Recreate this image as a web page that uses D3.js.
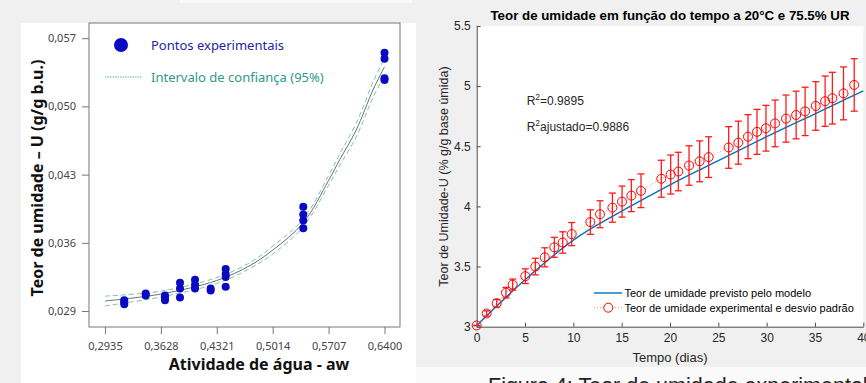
<!DOCTYPE html>
<html>
<head>
<meta charset="utf-8">
<script src="https://cdn.jsdelivr.net/npm/d3@7"></script>
<style>
  body { margin: 0; background: #f0f0f0; }
  svg { display: block; }
</style>
</head>
<body>
<svg id="chart" width="866" height="383"></svg>
<script>
// ---- left panel data (isoterma) ----
const expAw = [0.3174, 0.3174, 0.3174, 0.3440, 0.3440,
  0.3679, 0.3679, 0.3679, 0.3865, 0.3865, 0.3865,
  0.4051, 0.4051, 0.4051, 0.4245, 0.4245,
  0.4431, 0.4431, 0.4431, 0.4431,
  0.5393, 0.5393, 0.5393, 0.5393,
  0.6400, 0.6400, 0.6400, 0.6400];
const expU = [0.0297, 0.0299, 0.0301, 0.0306, 0.0308,
  0.0306, 0.0304, 0.0301, 0.0319, 0.0313, 0.0304,
  0.0322, 0.0317, 0.0313, 0.0313, 0.0311,
  0.0333, 0.0328, 0.0325, 0.0315,
  0.0397, 0.0389, 0.0383, 0.0375,
  0.0555, 0.0549, 0.0529, 0.0527];
const fitAw = [0.2935, 0.3628, 0.4321, 0.4733, 0.5014, 0.5393, 0.5707, 0.5848, 0.6047, 0.6261, 0.6400];
const fitU = [0.03003, 0.03074, 0.03213, 0.03367, 0.03525, 0.03806, 0.04240, 0.04458, 0.04754, 0.05176, 0.05406];
const fitUpper = [0.03053, 0.03104, 0.03243, 0.03397, 0.03565, 0.03846, 0.04290, 0.04518, 0.04824, 0.05256, 0.05496];
const fitLower = [0.02953, 0.03044, 0.03183, 0.03337, 0.03485, 0.03766, 0.04190, 0.04398, 0.04684, 0.05096, 0.05316];
const awTicks = [0.2935, 0.3628, 0.4321, 0.5014, 0.5707, 0.6400];
const uTicks = [0.029, 0.036, 0.043, 0.050, 0.057];

// ---- right panel data (cinetica) ----
const tDays = [0, 1.03, 2.07, 3.03, 3.72, 5.03, 6.07, 7.04, 8.03, 8.9, 9.83,
  11.76, 12.76, 14.04, 15.04, 16.0, 17.0, 19.1, 20.07, 20.86, 21.97, 23.07, 24.0,
  26.07, 27.07, 28.07, 29.0, 29.93, 30.87, 32.0, 33.05, 33.98, 35.08, 36.05, 36.8, 37.95, 39.06];
const uExp = [3.01, 3.11, 3.195, 3.283, 3.35, 3.42, 3.50, 3.577, 3.66, 3.70, 3.77,
  3.87, 3.935, 3.99, 4.04, 4.09, 4.13, 4.23, 4.265, 4.29, 4.34, 4.375, 4.41,
  4.49, 4.53, 4.58, 4.62, 4.65, 4.69, 4.73, 4.76, 4.79, 4.835, 4.875, 4.90, 4.94, 5.01];
const uStd = [0, 0.022, 0.031, 0.044, 0.046, 0.061, 0.069, 0.079, 0.083, 0.089, 0.096,
  0.102, 0.112, 0.121, 0.129, 0.133, 0.14, 0.154, 0.162, 0.16, 0.164, 0.17, 0.169,
  0.173, 0.179, 0.183, 0.187, 0.19, 0.194, 0.196, 0.198, 0.201, 0.202, 0.209, 0.215, 0.22, 0.218];
const tModel = [0, 5, 10, 15, 20, 25, 30, 35, 40];
const uModel = [3.01, 3.39, 3.72, 3.96, 4.18, 4.38, 4.58, 4.77, 4.96];
const tTicks = [0, 5, 10, 15, 20, 25, 30, 35, 40];
const uTicksR = [3, 3.5, 4, 4.5, 5, 5.5];

const svg = d3.select('#chart');

// backgrounds
svg.append('rect').attr('width', 866).attr('height', 383).attr('fill', '#f0f0f0');
svg.append('rect').attr('x', 180).attr('y', 0).attr('width', 232).attr('height', 3).attr('fill', '#f9f9f9');
svg.append('rect').attr('x', 21).attr('y', 23).attr('width', 395).attr('height', 360).attr('fill', '#fff');
svg.append('rect').attr('x', 416).attr('y', 367).attr('width', 450).attr('height', 16).attr('fill', '#fafafa');

// ================= LEFT =================
const segoe = '"Noto Sans", "Open Sans", sans-serif';
const xL = d3.scaleLinear().domain([0.2737, 0.6592]).range([89, 400]);
const yL = d3.scaleLinear().domain([0.02736, 0.05856]).range([327, 23]);
const left = svg.append('g');

const fmtComma = f => v => d3.format(f)(v).replace('.', ',');

const axL = left.append('g').attr('transform', 'translate(89,0)')
  .call(d3.axisLeft(yL).tickValues(uTicks).tickFormat(fmtComma('.3f')).tickSize(7).tickPadding(6));
const axB = left.append('g').attr('transform', 'translate(0,327)')
  .call(d3.axisBottom(xL).tickValues(awTicks).tickFormat(fmtComma('.4f')).tickSize(7).tickPadding(8));
[axL, axB].forEach(a => {
  a.select('.domain').remove();
  a.selectAll('line').attr('stroke', '#777');
  a.selectAll('text').attr('fill', '#444').style('font-family', segoe).style('font-size', '11px');
});

left.append('rect').attr('x', 89).attr('y', 23).attr('width', 311).attr('height', 304)
  .attr('fill', 'none').attr('stroke', '#777').attr('stroke-width', 1);

const lineL = (ys) => d3.line().curve(d3.curveCatmullRom.alpha(0.5))
  .x((d, i) => xL(fitAw[i])).y(d => yL(d))(ys);

left.append('path').attr('d', lineL(fitUpper)).attr('fill', 'none')
  .attr('stroke', '#6bbbab').attr('stroke-width', 0.9).attr('stroke-dasharray', '5,3');
left.append('path').attr('d', lineL(fitLower)).attr('fill', 'none')
  .attr('stroke', '#6bbbab').attr('stroke-width', 0.9).attr('stroke-dasharray', '5,3');
left.append('path').attr('d', lineL(fitU)).attr('fill', 'none')
  .attr('stroke', '#707070').attr('stroke-width', 1);

left.selectAll('.pt').data(expAw).enter().append('circle')
  .attr('cx', d => xL(d)).attr('cy', (d, i) => yL(expU[i])).attr('r', 4)
  .attr('fill', '#0a0ac0');

// legend
left.append('circle').attr('cx', 121).attr('cy', 45).attr('r', 7).attr('fill', '#0a0ac0');
left.append('text').attr('x', 151).attr('y', 50).text('Pontos experimentais')
  .style('font-family', segoe).style('font-size', '13px').attr('fill', '#2424a8');
left.append('line').attr('x1', 105).attr('x2', 142).attr('y1', 77).attr('y2', 77)
  .attr('stroke', '#5db3a3').attr('stroke-dasharray', '1.5,1');
left.append('text').attr('x', 151).attr('y', 82).text('Intervalo de confiança (95%)')
  .style('font-family', segoe).style('font-size', '13px').attr('fill', '#2e9a8a');

// axis titles
left.append('text').attr('x', 259).attr('y', 370).attr('text-anchor', 'middle')
  .text('Atividade de água - aw')
  .style('font-family', segoe).style('font-size', '16px').style('font-weight', 'bold').attr('fill', '#111');
left.append('text').attr('transform', 'translate(43,178) rotate(-90)').attr('text-anchor', 'middle')
  .text('Teor de umidade – U (g/g b.u.)')
  .style('font-family', segoe).style('font-size', '16px').style('font-weight', 'bold').attr('fill', '#111');

// ================= RIGHT =================
const helv = '"Liberation Sans", Arial, sans-serif';
const xR = d3.scaleLinear().domain([0, 40]).range([476.7, 863.3]);
const yR = d3.scaleLinear().domain([3, 5.5]).range([326.7, 26]);
const right = svg.append('g');

right.append('rect').attr('x', 476.7).attr('y', 26).attr('width', 386.6).attr('height', 300.7).attr('fill', '#fff');

const axRL = right.append('g').attr('transform', 'translate(476.7,0)')
  .call(d3.axisLeft(yR).tickValues(uTicksR).tickFormat(d3.format('~g')).tickSizeInner(-4).tickSizeOuter(0).tickPadding(6));
const axRB = right.append('g').attr('transform', 'translate(0,326.7)')
  .call(d3.axisBottom(xR).tickValues(tTicks).tickSizeInner(-4).tickSizeOuter(0).tickPadding(7));
[axRL, axRB].forEach(a => {
  a.select('.domain').attr('stroke', '#4d4d4d');
  a.selectAll('line').attr('stroke', '#4d4d4d');
  a.selectAll('text').attr('fill', '#262626').style('font-family', helv).style('font-size', '12px');
});

// model line
right.append('path')
  .attr('d', d3.line().curve(d3.curveMonotoneX).x((d, i) => xR(tModel[i])).y(d => yR(d))(uModel))
  .attr('fill', 'none').attr('stroke', '#0072bd').attr('stroke-width', 1.4);

// experimental dotted connector
right.append('path')
  .attr('d', d3.line().x((d, i) => xR(tDays[i])).y(d => yR(d))(uExp))
  .attr('fill', 'none').attr('stroke', '#ff8a8a').attr('stroke-width', 1).attr('stroke-dasharray', '1,2');

// error bars
const eb = right.selectAll('.eb').data(tDays).enter().append('g').attr('class', 'eb');
eb.append('line').attr('x1', d => xR(d)).attr('x2', d => xR(d))
  .attr('y1', (d, i) => yR(uExp[i] + uStd[i])).attr('y2', (d, i) => yR(uExp[i] - uStd[i]));
eb.append('line').attr('x1', d => xR(d) - 3.5).attr('x2', d => xR(d) + 3.5)
  .attr('y1', (d, i) => yR(uExp[i] + uStd[i])).attr('y2', (d, i) => yR(uExp[i] + uStd[i]));
eb.append('line').attr('x1', d => xR(d) - 3.5).attr('x2', d => xR(d) + 3.5)
  .attr('y1', (d, i) => yR(uExp[i] - uStd[i])).attr('y2', (d, i) => yR(uExp[i] - uStd[i]));
eb.selectAll('line').attr('stroke', '#ff1a1a').attr('stroke-width', 1.3);

right.selectAll('.mk').data(tDays).enter().append('circle')
  .attr('cx', d => xR(d)).attr('cy', (d, i) => yR(uExp[i])).attr('r', 4.5)
  .attr('fill', 'none').attr('stroke', '#ff0000').attr('stroke-width', 1);

// title & labels
right.append('text').attr('x', 670).attr('y', 20).attr('text-anchor', 'middle')
  .text('Teor de umidade em função do tempo a 20°C e 75.5% UR')
  .style('font-family', helv).style('font-size', '13.3px').style('font-weight', 'bold').attr('fill', '#000');
right.append('text').attr('x', 670).attr('y', 362).attr('text-anchor', 'middle')
  .text('Tempo (dias)').style('font-family', helv).style('font-size', '13px').attr('fill', '#262626');
right.append('text').attr('transform', 'translate(448,176.5) rotate(-90)').attr('text-anchor', 'middle')
  .text('Teor de Umidade-U (% g/g base úmida)').style('font-family', helv).style('font-size', '12.5px').attr('fill', '#262626');

const r2 = [['=0.9895', 105], ['ajustado=0.9886', 131]];
r2.forEach(([s, y]) => {
  const t = right.append('text').attr('x', 526.7).attr('y', y)
    .style('font-family', helv).style('font-size', '12px').attr('fill', '#262626');
  t.append('tspan').text('R');
  t.append('tspan').attr('dy', -5).style('font-size', '8.5px').text('2');
  t.append('tspan').attr('dy', 5).text(s);
});

// legend
right.append('line').attr('x1', 594).attr('x2', 622).attr('y1', 293).attr('y2', 293)
  .attr('stroke', '#0072bd').attr('stroke-width', 1.4);
right.append('text').attr('x', 624.5).attr('y', 297).text('Teor de umidade previsto pelo modelo')
  .style('font-family', helv).style('font-size', '11px').attr('fill', '#000');
right.append('line').attr('x1', 594).attr('x2', 622).attr('y1', 307.7).attr('y2', 307.7)
  .attr('stroke', '#ff8a8a').attr('stroke-dasharray', '1,2');
right.append('circle').attr('cx', 608.3).attr('cy', 307.7).attr('r', 4.5)
  .attr('fill', '#fff').attr('stroke', '#ff0000');
right.append('text').attr('x', 624.5).attr('y', 311.7).text('Teor de umidade experimental e desvio padrão')
  .style('font-family', helv).style('font-size', '11px').attr('fill', '#000');

// caption (cut off at bottom)
svg.append('text').attr('x', 488).attr('y', 393).text('Figura 4: Teor de umidade experimental')
  .style('font-family', helv).style('font-size', '21.5px').attr('fill', '#222');
</script>
</body>
</html>
